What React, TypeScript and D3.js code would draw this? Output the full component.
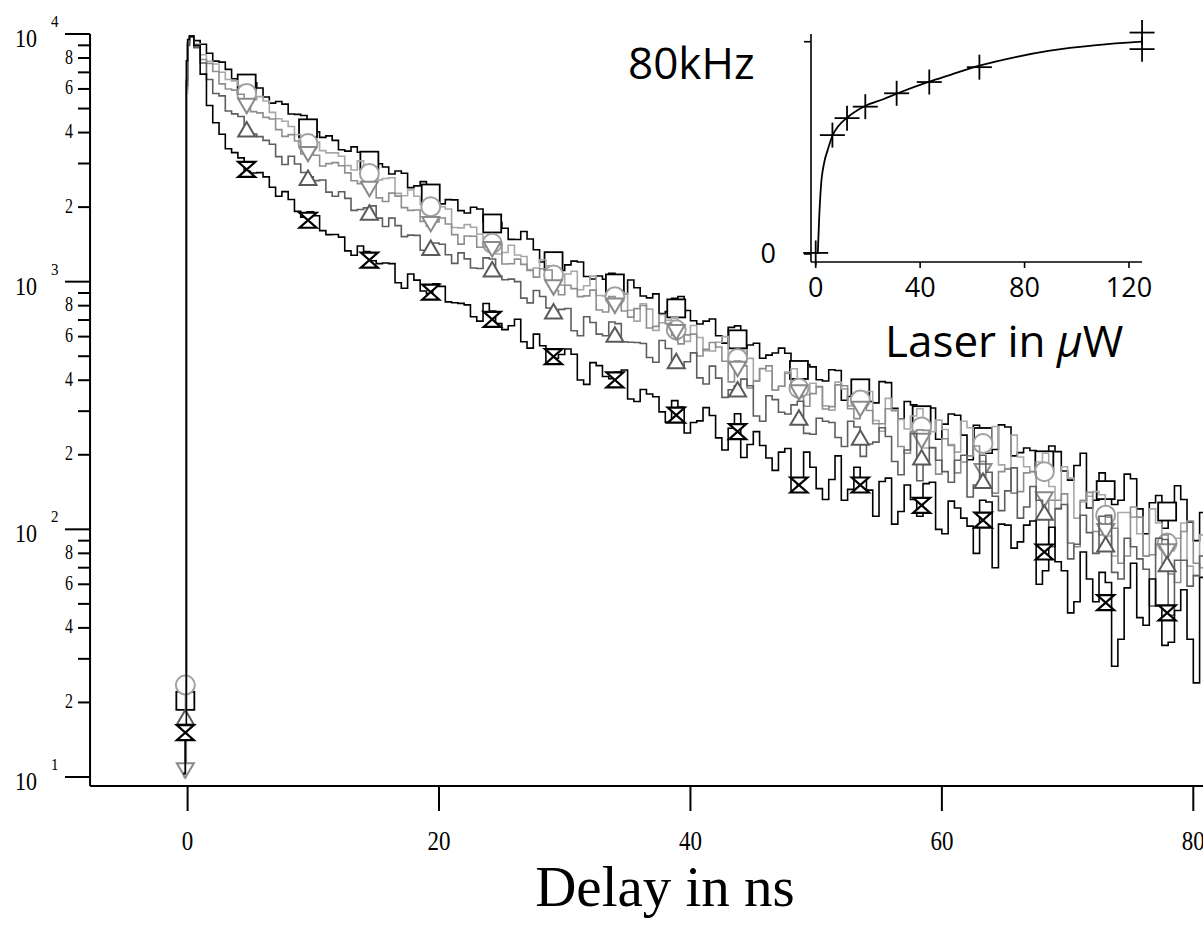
import React from "react";
import * as d3 from "d3";

// ---------------- main decay traces (counts vs delay) ----------------
const earlyTimeNs = [-0.35, -0.18, -0.1, 0, 0.15, 0.5];
const sampleTimeNs = d3.range(1, 82); // whole-ns bins 1 … 81
const halfTimeNs = d3.range(1.5, 81, 1); // half-ns bins 1.5 … 80.5

const earlySquare = [10.2, 20.3, 6500, 9200, 9800, 9400];
const countsSquare = [9090, 7770, 7200, 6490, 6360, 5570, 5340, 4750, 4690, 4030,
  3880, 3410, 3500, 3065, 2995, 2722, 2740, 2437, 2369, 2062,
  2139, 1894, 1964, 1648, 1644, 1479, 1487, 1200, 1255, 1169,
  1200, 1025, 1023, 898, 1015, 875, 893, 757, 871, 695,
  693, 605, 654, 502, 564, 505, 539, 419, 463, 402,
  441, 332, 375, 328, 395, 308, 328, 255, 309, 266,
  289, 191, 248, 210, 259, 204, 208, 161, 206, 158,
  203, 131, 149, 131, 160, 96, 137, 113, 132, 90, 116];
const halfSquare = [8356, 7698, 6597, 6392, 6053, 5259, 5209, 4738, 4500, 3825,
  3719, 3367, 3331, 2927, 2902, 2799, 2398, 2535, 2219, 2144,
  1935, 1998, 1752, 1732, 1482, 1595, 1346, 1306, 1109, 1210,
  1049, 1054, 1080, 894, 945, 860, 744, 856, 765, 675,
  707, 565, 663, 555, 491, 515, 514, 375, 453, 397,
  438, 344, 371, 324, 391, 279, 318, 289, 231, 292,
  240, 263, 203, 264, 198, 213, 163, 217, 172, 181,
  122, 169, 126, 167, 121, 128, 101, 150, 107, 117];

const earlyCircle = [10.2, 23.5, 5800, 9000, 9700, 9100];
const countsCircle = [8245, 7568, 6549, 6194, 5423, 5361, 4551, 4229, 3734, 3660,
  3313, 3209, 2825, 2891, 2577, 2627, 2224, 2213, 2010, 2006,
  1654, 1700, 1553, 1541, 1312, 1282, 1120, 1226, 1054, 1074,
  927, 1053, 875, 878, 767, 814, 636, 699, 626, 665,
  526, 569, 495, 531, 399, 436, 378, 445, 350, 376,
  303, 369, 328, 360, 249, 304, 254, 307, 248, 253,
  205, 257, 207, 260, 176, 196, 171, 203, 122, 161,
  129, 142, 94, 117, 112, 78, 106, 82, 106, 65, 79];
const halfCircle = [7753, 7010, 6466, 5627, 5588, 4827, 4445, 3929, 3831, 3380,
  3313, 2940, 3073, 2696, 2609, 2273, 2344, 2054, 1993, 1964,
  1649, 1659, 1492, 1294, 1403, 1264, 1135, 1158, 968, 1101,
  963, 879, 909, 897, 693, 775, 683, 716, 574, 595,
  525, 600, 449, 490, 445, 365, 432, 362, 389, 315,
  393, 315, 338, 275, 338, 278, 287, 213, 276, 220,
  273, 213, 221, 182, 240, 179, 187, 149, 179, 111,
  136, 138, 78, 117, 96, 121, 73, 92, 71, 95];

const earlyDown = [10.0, 10.7, 6000, 9100, 9750, 8900];
const countsDown = [7885, 7053, 5996, 5708, 4859, 4608, 4111, 3924, 3276, 3240,
  2996, 2936, 2556, 2455, 2180, 2278, 1990, 1946, 1675, 1807,
  1549, 1528, 1378, 1438, 1178, 1233, 1110, 1128, 921, 967,
  870, 924, 754, 808, 719, 801, 660, 677, 561, 614,
  533, 545, 394, 457, 396, 457, 378, 380, 314, 377,
  313, 380, 280, 302, 267, 301, 203, 252, 213, 232,
  169, 198, 188, 140, 175, 142, 171, 115, 131, 88,
  131, 98, 112, 73, 123, 78, 87, 66, 98, 73, 83];
const halfDown = [7601, 6289, 5932, 5150, 4804, 4537, 3861, 3700, 3312, 2932,
  3025, 2749, 2489, 2457, 2108, 2216, 1941, 1752, 1743, 1710,
  1418, 1525, 1385, 1415, 1181, 1174, 1043, 1115, 886, 937,
  876, 768, 870, 761, 778, 650, 737, 607, 610, 501,
  568, 477, 478, 372, 446, 365, 427, 346, 353, 306,
  383, 307, 317, 267, 307, 216, 249, 251, 167, 218,
  187, 217, 147, 171, 140, 169, 111, 131, 139, 85,
  141, 95, 101, 78, 112, 79, 95, 61, 108, 70];

const earlyUp = [10.4, 17.3, 6200, 9000, 9700, 8800];
const countsUp = [7635, 5754, 4891, 4647, 3947, 3718, 3197, 3208, 2761, 2559,
  2298, 2308, 1940, 1985, 1805, 1806, 1520, 1538, 1366, 1416,
  1185, 1236, 1131, 1235, 1018, 1000, 821, 871, 757, 779,
  605, 684, 605, 677, 569, 563, 473, 537, 449, 516,
  386, 408, 366, 404, 287, 346, 297, 318, 244, 281,
  270, 216, 259, 221, 257, 188, 209, 157, 214, 171,
  190, 135, 199, 136, 143, 111, 149, 113, 121, 76,
  114, 80, 114, 63, 85, 69, 92, 45, 75, 65, 83];
const halfUp = [6551, 5624, 4757, 4119, 3850, 3588, 2974, 2987, 2652, 2575,
  2214, 2169, 1956, 2024, 1670, 1684, 1541, 1339, 1432, 1284,
  1307, 1136, 1248, 1054, 1024, 858, 921, 783, 773, 634,
  722, 614, 687, 572, 568, 494, 579, 473, 475, 409,
  456, 341, 380, 380, 273, 334, 292, 329, 242, 273,
  235, 273, 197, 225, 237, 166, 244, 183, 190, 155,
  199, 151, 170, 119, 177, 123, 131, 85, 126, 87,
  97, 113, 67, 92, 76, 49, 91, 75, 59, 78];

const earlyHourglass = [10.3, 15.1, 7800, 9500, 9800, 9000];
const countsHourglass = [6888, 4381, 3441, 3160, 2748, 2650, 2213, 2146, 1822, 1845,
  1549, 1513, 1279, 1323, 1183, 1183, 941, 1014, 895, 957,
  822, 806, 693, 761, 640, 705, 539, 551, 491, 535,
  401, 471, 414, 432, 336, 367, 343, 271, 312, 270,
  310, 234, 256, 195, 248, 194, 205, 143, 205, 146,
  159, 131, 178, 144, 156, 105, 151, 113, 155, 96,
  122, 103, 131, 70, 104, 89, 108, 68, 74, 46,
  81, 51, 61, 36, 73, 41, 49, 35, 57, 24, 49];
const halfHourglass = [5143, 3939, 3319, 2792, 2757, 2407, 2309, 1922, 1916, 1608,
  1550, 1331, 1393, 1214, 1190, 990, 1074, 917, 981, 829,
  817, 722, 816, 677, 664, 572, 614, 467, 508, 509,
  385, 458, 406, 440, 328, 352, 298, 331, 245, 274,
  288, 209, 293, 220, 218, 173, 212, 157, 178, 132,
  198, 145, 161, 113, 161, 118, 132, 153, 100, 130,
  111, 80, 129, 105, 84, 104, 60, 102, 68, 51,
  63, 67, 28, 58, 44, 63, 34, 47, 36, 64];

// markers (every ~4.88 ns)
const markerTimeNs = [-0.18, 4.7, 9.58, 14.46, 19.34, 24.23, 29.11, 33.99, 38.87,
  43.75, 48.63, 53.51, 58.39, 63.27, 68.15, 73.03, 77.92];
const markerSquare = [20.3, 6310, 4160, 3080, 2270, 1718, 1210, 984, 780, 585, 440, 371, 289, 236, 190, 144, 118];
const markerCircle = [23.5, 5750, 3610, 2735, 2005, 1428, 1064, 869, 639, 490, 371, 333, 259, 222, 171, 114, 88];
const markerDown = [10.7, 5160, 3296, 2383, 1719, 1362, 953, 805, 629, 447, 359, 308, 229, 173, 133, 99, 82];
const markerUp = [17.3, 4093, 2612, 1888, 1362, 1114, 755, 608, 475, 365, 281, 233, 194, 156, 116, 86.5, 72];
const markerHourglass = [15.1, 2838, 1770, 1222, 908, 704, 498, 401, 289, 248, 151, 151, 125, 109, 81, 50.6, 46];

const xTickValues = [0, 20, 40, 60, 80];
const yDecades = [10, 100, 1000, 10000];
const yDecadeExp = ["1", "2", "3", "4"];
const yMinorMult = [2, 3, 4, 5, 6, 7, 8, 9];
const yMinorLabeled = [2, 4, 6, 8];

// ---------------- inset: signal vs laser power ----------------
const laserPowerUW = [0, 6.4, 12, 19, 31, 43.5, 62.7, 125, 125];
const laserSignal = [0.005, 0.56, 0.64, 0.694, 0.757, 0.81, 0.88, 1.043, 0.965];
const fitPowerUW = [0.8, 1.3, 2.0, 3.2, 4.6, 6.4, 8.7, 12.1, 18.9, 25.9, 31.4, 43.5, 51.4, 62.7, 77, 89.7, 107.6, 124.9];
const fitSignal = [0, 0.16, 0.317, 0.427, 0.49, 0.557, 0.603, 0.643, 0.697, 0.729, 0.757, 0.812, 0.843, 0.887, 0.929, 0.958, 0.984, 1.0];
const insetXTicks = [0, 40, 80, 120];
const insetYTicks = [0, 1];
const insetYTickLabels = ["0", ""];

type Shape = "square" | "circle" | "down" | "up" | "hourglass";
const series = [
  { early: earlySquare, counts: countsSquare, half: halfSquare, markers: markerSquare, line: "#000000", mark: "#000000", shape: "square" as Shape },
  { early: earlyCircle, counts: countsCircle, half: halfCircle, markers: markerCircle, line: "#a8a8a8", mark: "#a0a0a0", shape: "circle" as Shape },
  { early: earlyDown, counts: countsDown, half: halfDown, markers: markerDown, line: "#8e8e8e", mark: "#8a8a8a", shape: "down" as Shape },
  { early: earlyUp, counts: countsUp, half: halfUp, markers: markerUp, line: "#5e5e5e", mark: "#5a5a5a", shape: "up" as Shape },
  { early: earlyHourglass, counts: countsHourglass, half: halfHourglass, markers: markerHourglass, line: "#000000", mark: "#000000", shape: "hourglass" as Shape },
];

const SERIF = "'Liberation Serif', 'Times New Roman', serif";
const SANS = "'Open Sans', 'Noto Sans', sans-serif";

function Marker({ shape, cx, cy, color }: { shape: Shape; cx: number; cy: number; color: string }) {
  const common = { fill: "#ffffff", stroke: color, strokeWidth: 2 };
  const t = `translate(${cx},${cy})`;
  if (shape === "square") return <rect x={cx - 9} y={cy - 9} width={18} height={18} {...common} strokeWidth={1.8} />;
  if (shape === "circle") return <circle cx={cx} cy={cy} r={9.5} {...common} />;
  if (shape === "down") return <path transform={t} d="M-8.5,-6.5L8.5,-6.5L0,8Z" {...common} />;
  if (shape === "up") return <path transform={t} d="M0,-8L8.5,6.5L-8.5,6.5Z" {...common} />;
  return <path transform={t} d="M-8.5,-7.5H8.5L-8.5,7.5H8.5Z" {...common} strokeWidth={2.2} />;
}

function tracePoints(s: { early: number[]; counts: number[]; half: number[] }): [number, number][] {
  const pts: [number, number][] = earlyTimeNs.map((t, i) => [t, s.early[i]]);
  sampleTimeNs.forEach((t, i) => {
    pts.push([t, s.counts[i]]);
    if (i < halfTimeNs.length) pts.push([halfTimeNs[i], s.half[i]]);
  });
  return pts;
}

export default function App() {
  const W = 1203, H = 938;
  const x = d3.scaleLinear().domain([0, 80]).range([187.6, 1193.3]);
  const y = d3.scaleLog().domain([10, 10000]).range([777, 34]);
  const axisX = x(-7.76);
  const axisY = 786;

  const line = d3.line<[number, number]>()
    .x((d) => x(d[0]))
    .y((d) => y(d[1]))
    .curve(d3.curveStepAfter);

  const ix = d3.scaleLinear().domain([0, 120]).range([815.7, 1129]);
  const iy = d3.scaleLinear().domain([0, 1]).range([254, 41.7]);
  const fitLine = d3.line<number>()
    .x((_, i) => ix(fitPowerUW[i]))
    .y((d) => iy(d))
    .curve(d3.curveMonotoneX);
  const inL = ix(-1.8), inR = ix(125), inB = iy(-0.038), inT = iy(1.036);

  return (
    <svg width={W} height={H} style={{ position: "absolute", left: 0, top: 0, background: "#fff" }}>
      <rect width={W} height={H} fill="#fff" />
      {/* traces */}
      {series.map((s, si) => (
        <g key={si}>
          <path d={line(tracePoints(s)) || ""} fill="none" stroke={s.line} strokeWidth={1.6} />
          {markerTimeNs.map((t, k) => (
            <Marker key={k} shape={s.shape} cx={x(t)} cy={y(s.markers[k])} color={s.mark} />
          ))}
        </g>
      ))}

      {/* left axis */}
      <line x1={axisX} x2={axisX} y1={y(10000)} y2={axisY} stroke="#000" strokeWidth={2} />
      {yDecades.map((v, i) => (
        <g key={"d" + v}>
          <line x1={65} x2={axisX} y1={y(v)} y2={y(v)} stroke="#000" strokeWidth={2} />
          <text transform={`translate(37,${y(v) + 13}) scale(1,1.13)`} textAnchor="end" fontFamily={SERIF} fontSize={22}>10</text>
          <text transform={`translate(51,${y(v) - 7}) scale(1,1.1)`} fontFamily={SERIF} fontSize={15}>{yDecadeExp[i]}</text>
        </g>
      ))}
      {yDecades.slice(0, 3).map((dec) =>
        yMinorMult.map((m) => (
          <g key={dec + "_" + m}>
            <line x1={78} x2={axisX} y1={y(dec * m)} y2={y(dec * m)} stroke="#000" strokeWidth={2} />
            {yMinorLabeled.includes(m) && (
              <text transform={`translate(73,${y(dec * m) + 5.5}) scale(1,1.25)`} textAnchor="end" fontFamily={SERIF} fontSize={16}>{m}</text>
            )}
          </g>
        ))
      )}

      {/* bottom axis */}
      <line x1={axisX} x2={W} y1={axisY} y2={axisY} stroke="#000" strokeWidth={2} />
      {xTickValues.map((v) => (
        <g key={"x" + v}>
          <line x1={x(v)} x2={x(v)} y1={axisY} y2={axisY + 25} stroke="#000" strokeWidth={2} />
          <text transform={`translate(${x(v)},850) scale(1,1.2)`} textAnchor="middle" fontFamily={SERIF} fontSize={23}>{v}</text>
        </g>
      ))}
      <text x={665} y={906} textAnchor="middle" fontFamily={SERIF} fontSize={57}>Delay in ns</text>

      {/* inset */}
      <path d={fitLine(fitSignal) || ""} fill="none" stroke="#000" strokeWidth={1.8} />
      {laserPowerUW.map((p, i) => (
        <g key={"c" + i}>
          <line x1={ix(p) - 12.5} x2={ix(p) + 12.5} y1={iy(laserSignal[i])} y2={iy(laserSignal[i])} stroke="#000" strokeWidth={1.8} />
          <line x1={ix(p)} x2={ix(p)} y1={iy(laserSignal[i]) - 12.5} y2={iy(laserSignal[i]) + 12.5} stroke="#000" strokeWidth={1.8} />
        </g>
      ))}
      <line x1={inL} x2={inL} y1={inT} y2={inB} stroke="#000" strokeWidth={1.6} />
      <line x1={inL} x2={inR} y1={inB} y2={inB} stroke="#000" strokeWidth={1.6} />
      {insetYTicks.map((v, i) => (
        <g key={"iy" + v}>
          <line x1={inL - 7} x2={inL} y1={iy(v)} y2={iy(v)} stroke="#000" strokeWidth={1.6} />
          <text x={776} y={iy(v) + 9} textAnchor="end" fontFamily={SANS} fontSize={27}>{insetYTickLabels[i]}</text>
        </g>
      ))}
      {insetXTicks.map((v) => (
        <g key={"ix" + v}>
          <line x1={ix(v)} x2={ix(v)} y1={inB} y2={inB + 6} stroke="#000" strokeWidth={1.6} />
          <text x={ix(v)} y={297} textAnchor="middle" fontFamily={SANS} fontSize={27}>{v}</text>
        </g>
      ))}
      <text x={885} y={357} fontFamily={SANS} fontSize={44}>
        Laser in <tspan fontStyle="italic">µ</tspan>W
      </text>
      <text x={628} y={79} fontFamily={SANS} fontSize={44}>80kHz</text>
    </svg>
  );
}
